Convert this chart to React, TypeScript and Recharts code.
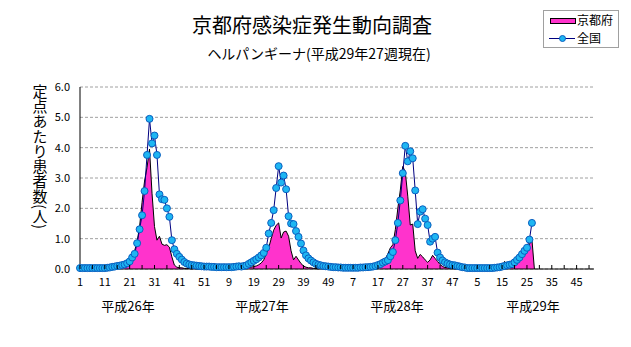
import React from 'react';
import { ComposedChart, Area, Line, XAxis, YAxis, CartesianGrid } from 'recharts';

const FONT = "'Noto Sans CJK JP', 'Noto Sans', sans-serif";

const title = '京都府感染症発生動向調査';
const subtitle = 'ヘルパンギーナ(平成29年27週現在)';
const yAxisTitle = '定点あたり患者数(人)';
const yearLabels = ['平成26年', '平成27年', '平成28年', '平成29年'];
const seriesNames = ['京都府', '全国'];
const weeksPerYear = 52;
const yTicks = [0, 1, 2, 3, 4, 5, 6];

// 京都府 (Kyoto) values per week
const kyoto26 = [0.00, 0.02, 0.00, 0.02, 0.00, 0.00, 0.02, 0.00, 0.02, 0.02, 0.00, 0.02, 0.02, 0.04, 0.02, 0.04, 0.06, 0.06,
  0.10, 0.15, 0.22, 0.35, 0.60, 0.90, 1.40, 2.20, 2.90, 3.35, 3.95, 2.50, 1.40, 0.95, 1.08, 0.82, 0.78, 0.80, 0.72, 0.40,
  0.13, 0.06, 0.04, 0.04, 0.02, 0.02, 0.02, 0.00, 0.02, 0.00, 0.00, 0.02, 0.00, 0.00];
const kyoto27 = [0.02, 0.00, 0.02, 0.00, 0.00, 0.02, 0.00, 0.00, 0.02, 0.00, 0.02, 0.00, 0.02, 0.02, 0.04, 0.04, 0.06, 0.06,
  0.08, 0.10, 0.14, 0.20, 0.30, 0.50, 0.70, 1.00, 1.28, 1.44, 1.52, 1.02, 1.22, 1.25, 1.08, 0.60, 0.30, 0.42, 0.30, 0.18,
  0.10, 0.06, 0.04, 0.04, 0.02, 0.02, 0.00, 0.02, 0.00, 0.00, 0.02, 0.00, 0.00, 0.00];
const kyoto28 = [0.02, 0.00, 0.02, 0.00, 0.00, 0.02, 0.00, 0.02, 0.00, 0.02, 0.02, 0.00, 0.04, 0.04, 0.06,
  0.08, 0.12, 0.18, 0.25, 0.35, 0.50, 0.70, 0.80, 1.30, 2.00, 2.60, 3.38, 3.20, 2.40, 1.45, 1.48, 0.60, 0.35, 0.48, 0.40,
  0.30, 0.22, 0.30, 0.45, 0.35, 0.25, 0.15, 0.08, 0.05, 0.04, 0.02, 0.02, 0.00, 0.02, 0.00, 0.00, 0.02];
const kyoto29 = [0.00, 0.02, 0.00, 0.00, 0.02, 0.00, 0.00, 0.02, 0.00, 0.00, 0.02, 0.00, 0.02, 0.02,
  0.03, 0.25, 0.05, 0.06, 0.10, 0.14, 0.20, 0.30, 0.38, 0.45, 0.56, 0.82, 0.97, 0.00];

// 全国 (national) values per week
const national26 = [0.03, 0.03, 0.03, 0.03, 0.03, 0.03, 0.03, 0.03, 0.03, 0.03, 0.03, 0.04, 0.05, 0.07, 0.08, 0.10, 0.11,
  0.13, 0.15, 0.19, 0.25, 0.38, 0.50, 0.85, 1.31, 1.77, 2.57, 3.76, 4.95, 4.14, 4.40, 3.76, 2.46, 2.30, 2.28, 2.00, 1.72,
  0.95, 0.65, 0.50, 0.40, 0.31, 0.23, 0.18, 0.15, 0.13, 0.12, 0.11, 0.10, 0.09, 0.08, 0.08];
const national27 = [0.08, 0.07, 0.07, 0.06, 0.06, 0.06, 0.06, 0.06, 0.06, 0.06, 0.07, 0.08, 0.09, 0.08, 0.10, 0.12, 0.17,
  0.22, 0.27, 0.32, 0.38, 0.45, 0.53, 0.70, 1.17, 1.52, 1.94, 2.67, 3.39, 2.85, 3.08, 2.63, 1.74, 1.50, 1.48, 1.25, 1.06,
  0.84, 0.61, 0.45, 0.35, 0.28, 0.22, 0.17, 0.14, 0.12, 0.10, 0.09, 0.08, 0.07, 0.06, 0.06];
const national28 = [0.05, 0.05, 0.04, 0.04, 0.04, 0.04, 0.04, 0.04, 0.04, 0.05, 0.05, 0.06, 0.06, 0.07, 0.08, 0.10, 0.13,
  0.16, 0.21, 0.25, 0.29, 0.42, 0.56, 0.95, 1.52, 2.26, 3.16, 4.06, 3.55, 3.88, 3.65, 2.59, 1.48, 1.89, 1.97, 1.66, 1.45,
  0.90, 1.00, 1.06, 0.54, 0.38, 0.28, 0.22, 0.18, 0.15, 0.13, 0.12, 0.10, 0.08, 0.06, 0.05];
const national29 = [0.03, 0.03, 0.03, 0.03, 0.03, 0.03, 0.03, 0.03, 0.03, 0.03, 0.03, 0.04, 0.05, 0.06, 0.08, 0.10, 0.12,
  0.14, 0.16, 0.22, 0.30, 0.38, 0.49, 0.60, 0.70, 0.97, 1.52];

const kyoto = [...kyoto26, ...kyoto27, ...kyoto28, ...kyoto29];
const national = [...national26, ...national27, ...national28, ...national29];

const data = Array.from({ length: yearLabels.length * weeksPerYear }, (_, i) => ({
  i,
  week: (i % weeksPerYear) + 1,
  kyoto: i < kyoto.length ? kyoto[i] : null,
  national: i < national.length ? national[i] : null,
}));

const tickIndices = data.filter((d) => d.i % 5 === 0).map((d) => d.i);

const XTick = (props: any) => {
  const { x, payload } = props;
  const idx = payload.value as number;
  return (
    <g>
      <line x1={x} x2={x} y1={269} y2={265} stroke="#000" strokeWidth={1} />
      {idx % 10 === 0 && (
        <text x={x} y={286} textAnchor="middle" fontSize={11} fill="#000" fontFamily={FONT}>
          {data[idx].week}
        </text>
      )}
    </g>
  );
};

const NatDot = (props: any) => {
  const { cx, cy, value, index } = props;
  if (value == null || cx == null || cy == null) return <g key={`d${index}`} />;
  return <circle key={`d${index}`} cx={cx} cy={cy} r={3.5} fill="#1EB6F2" stroke="#0A5FC0" strokeWidth={1} />;
};

const yearX = [128, 262, 397, 533];

export default function App() {
  return (
    <div style={{ position: 'absolute', left: 0, top: 0, width: 631, height: 347, background: '#fff' }}>
      <ComposedChart
        width={631}
        height={347}
        data={data}
        margin={{ top: 87, right: 37, bottom: 0, left: 0 }}
      >
        <CartesianGrid vertical={false} stroke="#a0a0a0" strokeDasharray="3 2" />
        <XAxis
          dataKey="i"
          type="category"
          ticks={tickIndices}
          interval={0}
          tick={<XTick />}
          tickLine={false}
          axisLine={{ stroke: '#000' }}
          height={78}
        />
        <YAxis
          domain={[0, 6]}
          ticks={yTicks}
          tickFormatter={(v: number) => v.toFixed(1)}
          tick={{ fontSize: 11, fill: '#000', fontFamily: FONT }}
          tickLine={false}
          tickMargin={4}
          axisLine={{ stroke: '#000' }}
          width={80}
        />
        <Area
          type="linear"
          dataKey="kyoto"
          stroke="#000"
          strokeWidth={1}
          fill="#FF33CC"
          fillOpacity={1}
          dot={false}
          activeDot={false}
          isAnimationActive={false}
        />
        <Line
          type="linear"
          dataKey="national"
          stroke="#000080"
          strokeWidth={1}
          dot={<NatDot />}
          activeDot={false}
          isAnimationActive={false}
        />
      </ComposedChart>
      <svg
        width={631}
        height={347}
        style={{ position: 'absolute', left: 0, top: 0, pointerEvents: 'none' }}
        fontFamily={FONT}
      >
        <text x={312} y={33} textAnchor="middle" fontSize={20} fill="#000">{title}</text>
        <text x={319} y={59} textAnchor="middle" fontSize={14} fill="#000">{subtitle}</text>
        <text x={40} y={84} fontSize={15} fill="#000" style={{ writingMode: 'vertical-rl' }}>{yAxisTitle}</text>
        {yearLabels.map((l, k) => (
          <text key={l} x={yearX[k]} y={311} textAnchor="middle" fontSize={13} fill="#000">{l}</text>
        ))}
        <rect x={543.5} y={10.5} width={75} height={37} fill="#fff" stroke="#a0a0a0" />
        <rect x={550.5} y={18.5} width={25} height={5} fill="#FF33CC" stroke="#000" />
        <text x={577} y={25} fontSize={12} fill="#000">{seriesNames[0]}</text>
        <line x1={549} x2={575} y1={38.5} y2={38.5} stroke="#000080" />
        <circle cx={562.5} cy={38.5} r={3} fill="#1EB6F2" stroke="#0A5FC0" />
        <text x={577} y={43} fontSize={12} fill="#000">{seriesNames[1]}</text>
      </svg>
    </div>
  );
}
